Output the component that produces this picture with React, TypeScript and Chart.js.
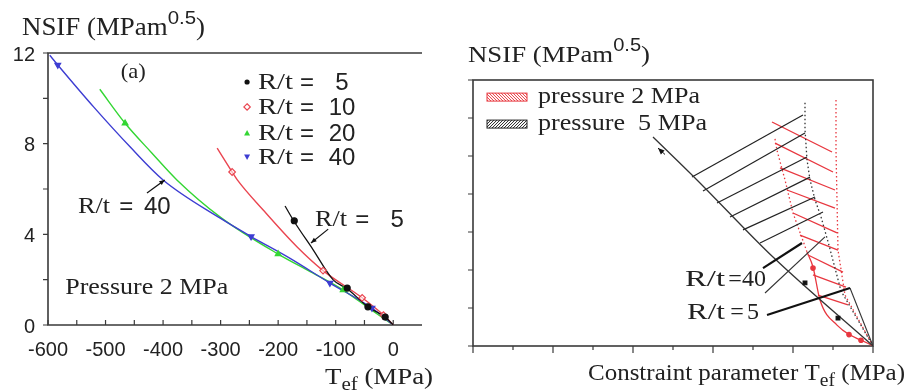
import React, { useEffect, useRef } from "react";
import { Chart, registerables } from "chart.js";
Chart.register(...registerables);

type Pt = [number, number];

const SERIF = "'Liberation Serif', 'Times New Roman', serif";
const SANS = "'Liberation Sans', Arial, sans-serif";
const INK = "#222222";
const AXIS = "#3a3a3a";

const COL_R5 = "#111111";
const COL_R10 = "#ea4550";
const COL_R20 = "#33d633";
const COL_R40 = "#3d3dd2";
const COL_RED = "#e8373f";

// ---------------- Left panel (a): pressure 2 MPa ----------------
const leftXMajor = [-600, -500, -400, -300, -200, -100, 0];
const leftXLabels = ["-600", "-500", "-400", "-300", "-200", "-100", "0"];
const leftXMinor = [-600, -550, -500, -450, -400, -350, -300, -250, -200, -150, -100, -50, 0];
const leftYMajor = [0, 4, 8, 12];
const leftYLabels = ["0", "4", "8", "12"];
const leftYMinor = [0, 2, 4, 6, 8, 10, 12];

const curveR5: Pt[] = [[-188, 5.25], [-173, 4.6], [-140, 3.35], [-104, 1.98], [-80, 1.6], [-44, 0.8], [-14, 0.35], [0, 0]];
const curveR10: Pt[] = [[-306, 7.8], [-280, 6.75], [-271, 6.4], [-226, 5.07], [-167, 3.44], [-122, 2.4], [-54, 1.2], [-17, 0.44], [0, 0]];
const curveR20: Pt[] = [[-510, 10.4], [-466, 8.9], [-420, 7.6], [-376, 6.4], [-300, 4.75], [-200, 3.13], [-140, 2.3], [-87, 1.54], [-40, 0.7], [0, 0]];
const curveR40: Pt[] = [[-597, 11.9], [-583, 11.47], [-520, 9.6], [-457, 7.85], [-400, 6.4], [-300, 4.7], [-247, 3.9], [-180, 2.95], [-110, 1.85], [-37, 0.75], [0, 0]];

const markR5: Pt[] = [[-172, 4.6], [-80, 1.63], [-44, 0.8], [-14, 0.35]];
const markR10: Pt[] = [[-280, 6.75], [-122, 2.4], [-54, 1.2], [-17, 0.44]];
const markR20: Pt[] = [[-466, 8.9], [-200, 3.13], [-87, 1.54]];
const markR40: Pt[] = [[-583, 11.47], [-247, 3.9], [-110, 1.85], [-37, 0.75]];

const legendNumbers = ["5", "10", "20", "40"];
const legendRowsY = [10.72, 9.62, 8.47, 7.41];
const legendMarkerX = -254;
const legendTextX = -235;
const legendEqX = -150;
const legendNumX = -89;

const arrowR40: Pt[] = [[-428, 5.82], [-397, 6.4]];
const arrowR5: Pt[] = [[-113, 4.23], [-143, 3.62]];

// ---------------- Right panel: pressure 2 and 5 MPa ----------------
const rightXTicks = [-10, -9, -8, -7, -6, -5, -4, -3, -2, -1, 0];
const rightYTicks = [0, 2, 4, 6, 8, 10, 12, 14];

const p5R5: Pt[] = [[-5.5, 11.0], [-4.4, 8.74], [-2.5, 4.68], [0, 0]];
const p5R40: Pt[] = [[-1.7, 12.8], [-1.7, 11.4], [-1.65, 9.8], [-1.575, 8.75], [-1.45, 7.7], [-1.3, 6.8], [-1.1, 5.3], [-0.8, 2.9], [0, 0]];
const p5Hatch: Pt[][] = [
  [[-4.525, 8.89], [-1.75, 12.16]],
  [[-4.25, 8.16], [-1.7, 11.21]],
  [[-3.9, 7.53], [-1.65, 9.95]],
  [[-3.575, 6.79], [-1.575, 8.89]],
  [[-3.25, 6.11], [-1.45, 7.84]],
  [[-2.825, 5.42], [-1.25, 7.05]],
];
const p2R40: Pt[] = [[-0.925, 12.95], [-0.925, 10.3], [-0.875, 5.05], [-0.7, 2.68], [0, 0]];
const p2Left: Pt[] = [[-2.45, 10.9], [-2.4, 10.3], [-2.2, 8.74], [-2.0, 7.0], [-1.65, 4.95]];
const p2R5: Pt[] = [[-1.65, 4.95], [-1.5, 4.16], [-1.325, 2.42], [-0.9, 1.1], [0, 0]];
const p2Hatch: Pt[][] = [
  [[-2.525, 11.79], [-1.025, 10.21]],
  [[-2.45, 10.68], [-1.0, 9.16]],
  [[-2.325, 9.37], [-0.95, 8.21]],
  [[-2.15, 8.21], [-0.95, 7.26]],
  [[-2.0, 7.0], [-0.9, 5.95]],
  [[-1.825, 5.84], [-0.875, 5.05]],
  [[-1.625, 4.79], [-0.75, 3.89]],
  [[-1.5, 3.74], [-0.675, 3.1]],
  [[-1.375, 2.68], [-0.625, 2.16]],
];
const pointerR40Thick: Pt[] = [[-2.75, 4.1], [-1.775, 5.42]];
const pointerR40Thin: Pt[] = [[-2.7, 2.79], [-1.2, 5.74]];
const pointerR5Thick: Pt[] = [[-2.65, 1.63], [-0.575, 3.05]];
const convergeLine: Pt[] = [[-0.575, 3.05], [0, 0]];
const rightBlackSquares: Pt[] = [[-1.7, 3.32], [-0.875, 1.47]];
const rightRedMarks: Pt[] = [[-1.5, 4.1], [-0.6, 0.6], [-0.3, 0.3]];
const diagArrow: Pt[] = [[-5.2, 10.08], [-5.375, 10.42]];

const rightLegendLabels = ["pressure 2 MPa", "pressure  5 MPa"];
const rightLegendY = [13.1, 11.68];
const rightLegendBoxX: Pt = [-9.65, -8.65];
const rightLegendTextX = -8.375;

// ---------------- helpers ----------------
const pts = (a: Pt[]) => a.map(([x, y]) => ({ x, y }));

function curve(a: Pt[], color: string, width = 1.4, dash: number[] = [], smooth = true) {
  return {
    data: pts(a),
    showLine: true,
    borderColor: color,
    borderWidth: width,
    borderDash: dash,
    pointRadius: 0,
    pointHoverRadius: 0,
    fill: false,
    cubicInterpolationMode: smooth ? "monotone" : "default",
    tension: 0,
  };
}

function markers(a: Pt[], style: string, color: string, fill: string, rotation = 0, r = 3.5) {
  return {
    data: pts(a),
    showLine: false,
    pointStyle: style,
    pointRadius: r,
    pointHoverRadius: r,
    pointBorderColor: color,
    pointBackgroundColor: fill,
    pointBorderWidth: 1.2,
    pointRotation: rotation,
  };
}

type Part = { t: string; size: number; dy?: number; fam?: string };

function drawRich(ctx: CanvasRenderingContext2D, x: number, y: number, parts: Part[], targetWidth = 0) {
  ctx.save();
  ctx.fillStyle = INK;
  ctx.textAlign = "left";
  ctx.textBaseline = "alphabetic";
  let total = 0;
  for (const p of parts) {
    ctx.font = `${p.size}px ${p.fam || SERIF}`;
    total += ctx.measureText(p.t).width;
  }
  const sx = targetWidth > 0 ? targetWidth / total : 1;
  ctx.translate(x, y);
  ctx.scale(sx, 1);
  let cx = 0;
  for (const p of parts) {
    ctx.font = `${p.size}px ${p.fam || SERIF}`;
    ctx.fillText(p.t, cx, p.dy || 0);
    cx += ctx.measureText(p.t).width;
  }
  ctx.restore();
}

function text(ctx: CanvasRenderingContext2D, s: string, x: number, y: number, size: number, fam: string, align: CanvasTextAlign = "left", targetWidth = 0) {
  ctx.save();
  ctx.fillStyle = INK;
  ctx.font = `${size}px ${fam}`;
  ctx.textAlign = align;
  ctx.textBaseline = "middle";
  const w = ctx.measureText(s).width;
  const sx = targetWidth > 0 ? targetWidth / w : 1;
  ctx.translate(x, y);
  ctx.scale(sx, 1);
  ctx.fillText(s, 0, 0);
  ctx.restore();
}

function arrow(ctx: CanvasRenderingContext2D, x1: number, y1: number, x2: number, y2: number, color: string, width = 1.2, head = 6) {
  ctx.save();
  ctx.strokeStyle = color;
  ctx.fillStyle = color;
  ctx.lineWidth = width;
  ctx.beginPath();
  ctx.moveTo(x1, y1);
  ctx.lineTo(x2, y2);
  ctx.stroke();
  const a = Math.atan2(y2 - y1, x2 - x1);
  ctx.beginPath();
  ctx.moveTo(x2, y2);
  ctx.lineTo(x2 - head * Math.cos(a - 0.4), y2 - head * Math.sin(a - 0.4));
  ctx.lineTo(x2 - head * Math.cos(a + 0.4), y2 - head * Math.sin(a + 0.4));
  ctx.closePath();
  ctx.fill();
  ctx.restore();
}

// ---------------- plugins ----------------
const leftPlugin = {
  id: "leftDecor",
  beforeDatasetsDraw(chart: any) {
    const { ctx, chartArea: a, scales } = chart;
    const x = scales.x, y = scales.y;
    ctx.save();
    ctx.strokeStyle = AXIS;
    ctx.lineWidth = 1.6;
    ctx.beginPath();
    ctx.moveTo(a.right, a.top);
    ctx.lineTo(a.left, a.top);
    ctx.lineTo(a.left, a.bottom);
    ctx.lineTo(a.right, a.bottom);
    ctx.stroke();
    ctx.lineWidth = 1.2;
    ctx.beginPath();
    leftXMinor.forEach((v) => {
      const px = x.getPixelForValue(v);
      ctx.moveTo(px, a.bottom);
      ctx.lineTo(px, a.bottom - 5);
    });
    leftYMinor.forEach((v) => {
      const py = y.getPixelForValue(v);
      ctx.moveTo(a.left, py);
      ctx.lineTo(a.left - 5, py);
    });
    ctx.stroke();
    ctx.restore();
    leftXMajor.forEach((v, i) => text(ctx, leftXLabels[i], x.getPixelForValue(v), a.bottom + 25, 20, SANS, "center"));
    leftYMajor.forEach((v, i) => text(ctx, leftYLabels[i], a.left - 13, y.getPixelForValue(v) + 2, 20, SANS, "right"));
  },
  afterDatasetsDraw(chart: any) {
    const { ctx, scales } = chart;
    const x = scales.x, y = scales.y;
    // titles
    drawRich(ctx, 22, 35, [
      { t: "NSIF (MPam", size: 25 },
      { t: "0.5", size: 19, dy: -11, fam: SANS },
      { t: ")", size: 25 },
    ], 183);
    drawRich(ctx, 325, 384, [
      { t: "T", size: 23 },
      { t: "ef", size: 18, dy: 6 },
      { t: " (MPa)", size: 23 },
    ], 108);
    // (a)
    text(ctx, "(a)", x.getPixelForValue(-452), y.getPixelForValue(11.16), 21, SERIF, "center", 25);
    // legend
    const cols = [COL_R5, COL_R10, COL_R20, COL_R40];
    legendRowsY.forEach((ly, i) => {
      const mx = x.getPixelForValue(legendMarkerX);
      const my = y.getPixelForValue(ly);
      ctx.save();
      ctx.strokeStyle = cols[i];
      ctx.fillStyle = cols[i];
      ctx.lineWidth = 1.2;
      ctx.beginPath();
      if (i === 0) {
        ctx.arc(mx, my, 2.6, 0, Math.PI * 2);
        ctx.fill();
      } else if (i === 1) {
        ctx.moveTo(mx, my - 3.2); ctx.lineTo(mx + 3.2, my); ctx.lineTo(mx, my + 3.2); ctx.lineTo(mx - 3.2, my); ctx.closePath();
        ctx.stroke();
      } else if (i === 2) {
        ctx.moveTo(mx, my - 3); ctx.lineTo(mx + 3, my + 2.5); ctx.lineTo(mx - 3, my + 2.5); ctx.closePath();
        ctx.fill();
      } else {
        ctx.moveTo(mx, my + 3); ctx.lineTo(mx + 3, my - 2.5); ctx.lineTo(mx - 3, my - 2.5); ctx.closePath();
        ctx.fill();
      }
      ctx.restore();
      text(ctx, "R/t", x.getPixelForValue(legendTextX), my + 1, 24, SERIF, "left", 35);
      text(ctx, "=", x.getPixelForValue(legendEqX), my + 1, 24, SANS, "center");
      text(ctx, legendNumbers[i], x.getPixelForValue(legendNumX), my + 1, 24, SANS, "center");
    });
    // labels with arrows
    text(ctx, "R/t", x.getPixelForValue(-548), y.getPixelForValue(5.2), 24, SERIF, "left", 32);
    text(ctx, "=", x.getPixelForValue(-464), y.getPixelForValue(5.2), 24, SANS, "center");
    text(ctx, "40", x.getPixelForValue(-410), y.getPixelForValue(5.2), 24, SANS, "center");
    text(ctx, "R/t", x.getPixelForValue(-136), y.getPixelForValue(4.63), 24, SERIF, "left", 32);
    text(ctx, "=", x.getPixelForValue(-54), y.getPixelForValue(4.63), 24, SANS, "center");
    text(ctx, "5", x.getPixelForValue(7), y.getPixelForValue(4.63), 24, SANS, "center");
    arrow(ctx, x.getPixelForValue(arrowR40[0][0]), y.getPixelForValue(arrowR40[0][1]), x.getPixelForValue(arrowR40[1][0]), y.getPixelForValue(arrowR40[1][1]), "#111", 1.2, 6);
    arrow(ctx, x.getPixelForValue(arrowR5[0][0]), y.getPixelForValue(arrowR5[0][1]), x.getPixelForValue(arrowR5[1][0]), y.getPixelForValue(arrowR5[1][1]), "#111", 1.2, 6);
    text(ctx, "Pressure 2 MPa", x.getPixelForValue(-570), y.getPixelForValue(1.63), 24, SERIF, "left", 163);
  },
};

const rightPlugin = {
  id: "rightDecor",
  beforeDatasetsDraw(chart: any) {
    const { ctx, chartArea: a, scales } = chart;
    const x = scales.x, y = scales.y;
    ctx.save();
    ctx.strokeStyle = AXIS;
    ctx.lineWidth = 1.6;
    ctx.strokeRect(a.left, a.top, a.right - a.left, a.bottom - a.top);
    ctx.lineWidth = 1.2;
    ctx.beginPath();
    rightXTicks.forEach((v) => {
      const px = x.getPixelForValue(v);
      const len = v % 2 === 0 ? 7 : 4;
      ctx.moveTo(px, a.bottom);
      ctx.lineTo(px, a.bottom + len);
    });
    rightYTicks.forEach((v) => {
      const py = y.getPixelForValue(v);
      ctx.moveTo(a.left, py);
      ctx.lineTo(a.left - 5, py);
    });
    ctx.stroke();
    ctx.restore();
  },
  afterDatasetsDraw(chart: any) {
    const { ctx, scales } = chart;
    const x = scales.x, y = scales.y;
    drawRich(ctx, 28, 62, [
      { t: "NSIF (MPam", size: 24 },
      { t: "0.5", size: 18, dy: -11, fam: SANS },
      { t: ")", size: 24 },
    ], 182);
    drawRich(ctx, 148, 380, [
      { t: "Constraint parameter T", size: 23 },
      { t: "ef", size: 18, dy: 6 },
      { t: " (MPa)", size: 23 },
    ], 317);
    // legend boxes
    const cols = [COL_RED, "#222"];
    rightLegendY.forEach((ly, i) => {
      const x0 = x.getPixelForValue(rightLegendBoxX[0]);
      const x1 = x.getPixelForValue(rightLegendBoxX[1]);
      const yc = y.getPixelForValue(ly);
      const h = 8;
      ctx.save();
      ctx.strokeStyle = cols[i];
      ctx.lineWidth = 1;
      ctx.strokeRect(x0, yc - h / 2, x1 - x0, h);
      ctx.beginPath();
      ctx.rect(x0, yc - h / 2, x1 - x0, h);
      ctx.clip();
      ctx.beginPath();
      for (let k = -10; k < x1 - x0 + 10; k += 3) {
        if (i === 0) {
          ctx.moveTo(x0 + k, yc - h / 2);
          ctx.lineTo(x0 + k + h, yc + h / 2);
        } else {
          ctx.moveTo(x0 + k, yc + h / 2);
          ctx.lineTo(x0 + k + h, yc - h / 2);
        }
      }
      ctx.stroke();
      ctx.restore();
      text(ctx, rightLegendLabels[i], x.getPixelForValue(rightLegendTextX), yc, 23, SERIF, "left", i === 0 ? 162 : 169);
    });
    // labels
    text(ctx, "R/t", x.getPixelForValue(-4.7), y.getPixelForValue(3.47), 24, SERIF, "left", 40);
    text(ctx, "=", x.getPixelForValue(-3.45), y.getPixelForValue(3.47), 24, SERIF, "center");
    text(ctx, "40", x.getPixelForValue(-2.975), y.getPixelForValue(3.47), 24, SERIF, "center");
    text(ctx, "R/t", x.getPixelForValue(-4.65), y.getPixelForValue(1.74), 24, SERIF, "left", 38);
    text(ctx, "=", x.getPixelForValue(-3.4), y.getPixelForValue(1.74), 24, SERIF, "center");
    text(ctx, "5", x.getPixelForValue(-3.0), y.getPixelForValue(1.74), 24, SERIF, "center");
    arrow(ctx, x.getPixelForValue(diagArrow[0][0]), y.getPixelForValue(diagArrow[0][1]), x.getPixelForValue(diagArrow[1][0]), y.getPixelForValue(diagArrow[1][1]), "#111", 1, 7);
  },
};

function leftConfig(): any {
  return {
    type: "scatter",
    data: {
      datasets: [
        markers(markR5, "circle", COL_R5, COL_R5, 0, 3.0),
        markers(markR10, "rectRot", COL_R10, "rgba(255,255,255,0.6)", 0, 3.3),
        markers(markR20, "triangle", COL_R20, COL_R20, 0, 3.3),
        markers(markR40, "triangle", COL_R40, COL_R40, 180, 3.3),
        curve(curveR5, COL_R5, 1.3),
        curve(curveR10, COL_R10, 1.4),
        curve(curveR40, COL_R40, 1.4),
        curve(curveR20, COL_R20, 1.4),
      ],
    },
    options: {
      responsive: false,
      maintainAspectRatio: false,
      animation: false,
      devicePixelRatio: 1,
      events: [],
      layout: { padding: { left: 48, right: 18, top: 53, bottom: 67 } },
      plugins: { legend: { display: false }, tooltip: { enabled: false } },
      scales: {
        x: { type: "linear", min: -600, max: 50, display: false },
        y: { type: "linear", min: 0, max: 12, display: false },
      },
    },
    plugins: [leftPlugin],
  };
}

function rightConfig(): any {
  const ds: any[] = [
    markers(rightBlackSquares, "rect", "#111", "#111", 0, 2.6),
    markers(rightRedMarks, "circle", COL_RED, COL_RED, 0, 2.2),
    curve(pointerR5Thick, "#111", 2.2, [], false),
    curve(pointerR40Thick, "#111", 2.2, [], false),
    curve(pointerR40Thin, "#333", 1.1, [], false),
    curve(convergeLine, "#333", 1.1, [], false),
    curve(p5R5, "#333", 1.3, [], true),
    curve(p5R40, "#333", 1.3, [1.5, 2.5], false),
  ];
  p5Hatch.forEach((h) => ds.push(curve(h, "#222", 1.2, [], false)));
  ds.push(curve(p2R5, COL_RED, 1.3, [], true));
  ds.push(curve(p2R40, COL_RED, 1.3, [1.5, 2.5], false));
  ds.push(curve(p2Left, COL_RED, 1.3, [1.5, 2.5], false));
  p2Hatch.forEach((h) => ds.push(curve(h, COL_RED, 1.3, [], false)));
  return {
    type: "scatter",
    data: { datasets: ds },
    options: {
      responsive: false,
      maintainAspectRatio: false,
      animation: false,
      devicePixelRatio: 1,
      events: [],
      layout: { padding: { left: 33, right: 38, top: 80, bottom: 46 } },
      plugins: { legend: { display: false }, tooltip: { enabled: false } },
      scales: {
        x: { type: "linear", min: -10, max: 0, display: false },
        y: { type: "linear", min: 0, max: 14, display: false },
      },
    },
    plugins: [rightPlugin],
  };
}

export default function App() {
  const lRef = useRef<HTMLCanvasElement>(null);
  const rRef = useRef<HTMLCanvasElement>(null);
  useEffect(() => {
    const c1 = new Chart(lRef.current as HTMLCanvasElement, leftConfig());
    const c2 = new Chart(rRef.current as HTMLCanvasElement, rightConfig());
    return () => {
      c1.destroy();
      c2.destroy();
    };
  }, []);
  return (
    <div style={{ position: "fixed", left: 0, top: 0, width: 911, height: 392, background: "#ffffff" }}>
      <canvas ref={lRef} width={440} height={392} style={{ position: "absolute", left: 0, top: 0, width: 440, height: 392 }} />
      <canvas ref={rRef} width={471} height={392} style={{ position: "absolute", left: 440, top: 0, width: 471, height: 392 }} />
    </div>
  );
}
